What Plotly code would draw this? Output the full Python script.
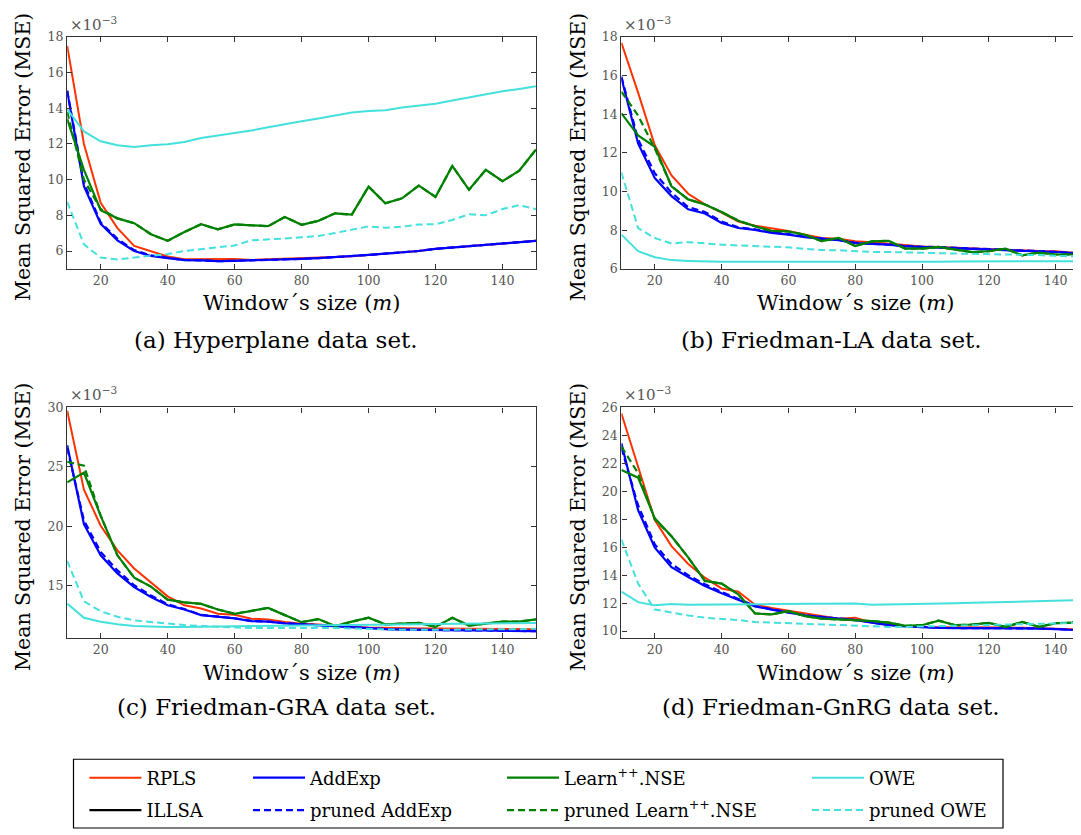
import plotly.graph_objects as go

# ---------------- data ----------------
WINDOW = [10, 15, 20, 25, 30, 35, 40, 45, 50, 55, 60, 65, 70, 75, 80,
          85, 90, 95, 100, 105, 110, 115, 120, 125, 130, 135, 140, 145, 150]

# (a) Hyperplane  (values x 1e-3)
HYP_RPLS = [17.5, 12.0, 8.7, 7.28, 6.29, 6.0, 5.69, 5.54, 5.54, 5.53, 5.55, 5.5, 5.53, 5.54, 5.56,
            5.62, 5.66, 5.71, 5.78, 5.86, 5.95, 6.0, 6.12, 6.2, 6.27, 6.33, 6.42, 6.5, 6.57]
HYP_ADDEXP = [14.95, 9.63, 7.52, 6.6, 6.0, 5.72, 5.6, 5.49, 5.47, 5.43, 5.45, 5.47, 5.5, 5.53, 5.56,
              5.6, 5.65, 5.7, 5.78, 5.85, 5.92, 6.0, 6.12, 6.19, 6.25, 6.33, 6.42, 6.5, 6.57]
HYP_PADDEXP = [15.0, 9.8, 7.6, 6.68, 6.05, 5.75, 5.62, 5.5, 5.47, 5.43, 5.45, 5.47, 5.5, 5.53, 5.56,
               5.6, 5.65, 5.7, 5.78, 5.85, 5.92, 6.0, 6.12, 6.19, 6.25, 6.33, 6.42, 6.5, 6.57]
HYP_LEARN = [13.4, 10.55, 8.29, 7.83, 7.56, 6.94, 6.57, 7.06, 7.5, 7.21, 7.49, 7.43, 7.39, 7.91, 7.47,
             7.69, 8.11, 8.04, 9.61, 8.68, 8.95, 9.67, 9.03, 10.77, 9.43, 10.55, 9.91, 10.5, 11.69]
HYP_PLEARN = [13.8, 10.0, 8.35, 7.83, 7.56, 6.94, 6.57, 7.06, 7.5, 7.21, 7.49, 7.43, 7.39, 7.91, 7.47,
              7.69, 8.11, 8.04, 9.61, 8.68, 8.95, 9.67, 9.03, 10.77, 9.43, 10.55, 9.91, 10.5, 11.69]
HYP_OWE = [13.94, 12.7, 12.15, 11.93, 11.83, 11.93, 11.98, 12.11, 12.33, 12.46, 12.59, 12.75, 12.94, 13.12, 13.27,
           13.43, 13.58, 13.76, 13.85, 13.89, 14.04, 14.13, 14.26, 14.44, 14.62, 14.77, 14.95, 15.08, 15.23]
HYP_POWE = [8.75, 6.37, 5.63, 5.52, 5.63, 5.71, 5.83, 6.0, 6.09, 6.2, 6.31, 6.6, 6.64, 6.7, 6.77,
            6.84, 7.01, 7.19, 7.38, 7.3, 7.36, 7.49, 7.5, 7.74, 8.06, 8.0, 8.35, 8.57, 8.35]

# (b) Friedman-LA
LA_RPLS = [17.7, 15.12, 12.4, 10.84, 9.89, 9.34, 8.92, 8.46, 8.24, 8.12, 7.97, 7.77, 7.61, 7.56, 7.43,
           7.39, 7.31, 7.22, 7.17, 7.14, 7.1, 7.09, 7.05, 7.0, 6.97, 6.93, 6.92, 6.85, 6.78]
LA_ADDEXP = [15.88, 12.49, 10.7, 9.77, 9.09, 8.87, 8.38, 8.12, 8.02, 7.87, 7.78, 7.65, 7.56, 7.49, 7.34,
             7.29, 7.26, 7.17, 7.14, 7.12, 7.09, 7.04, 7.0, 6.98, 6.95, 6.92, 6.88, 6.83, 6.76]
LA_PADDEXP = [15.95, 12.7, 10.95, 9.95, 9.2, 8.95, 8.45, 8.16, 8.05, 7.9, 7.8, 7.67, 7.58, 7.5, 7.36,
              7.3, 7.27, 7.18, 7.15, 7.13, 7.1, 7.05, 7.01, 6.99, 6.96, 6.93, 6.89, 6.84, 6.77]
LA_LEARN = [14.05, 12.91, 12.32, 10.28, 9.6, 9.34, 8.95, 8.5, 8.21, 7.97, 7.94, 7.77, 7.44, 7.61, 7.19,
            7.43, 7.46, 7.05, 7.05, 7.14, 7.0, 6.87, 6.92, 7.05, 6.71, 6.85, 6.75, 6.76, 6.75]
LA_PLEARN = [15.17, 13.93, 12.23, 10.28, 9.6, 9.34, 8.95, 8.5, 8.21, 7.97, 7.94, 7.77, 7.44, 7.61, 7.19,
             7.43, 7.46, 7.05, 7.05, 7.14, 7.0, 6.87, 6.92, 7.05, 6.71, 6.85, 6.75, 6.76, 6.75]
LA_OWE = [7.78, 6.92, 6.61, 6.46, 6.42, 6.39, 6.37, 6.37, 6.37, 6.37, 6.36, 6.35, 6.36, 6.37, 6.37,
          6.38, 6.38, 6.38, 6.38, 6.38, 6.39, 6.39, 6.39, 6.4, 6.4, 6.4, 6.41, 6.41, 6.41]
LA_POWE = [10.99, 8.12, 7.6, 7.32, 7.39, 7.32, 7.26, 7.22, 7.19, 7.15, 7.12, 7.04, 6.98, 6.97, 6.92,
           6.88, 6.88, 6.85, 6.83, 6.82, 6.8, 6.79, 6.78, 6.77, 6.75, 6.72, 6.68, 6.66, 6.65]

# (c) Friedman-GRA
GRA_RPLS = [29.72, 23.09, 20.06, 17.98, 16.46, 15.28, 14.12, 13.37, 13.09, 12.65, 12.57, 12.24, 12.18, 11.96, 11.82,
            11.75, 11.62, 11.55, 11.49, 11.45, 11.43, 11.41, 11.41, 11.39, 11.38, 11.37, 11.35, 11.35, 11.35]
GRA_ADDEXP = [26.82, 20.19, 17.57, 16.05, 14.89, 14.06, 13.37, 13.01, 12.54, 12.38, 12.27, 12.04, 11.99, 11.85, 11.77,
              11.69, 11.6, 11.5, 11.41, 11.37, 11.33, 11.3, 11.27, 11.26, 11.26, 11.25, 11.24, 11.22, 11.19]
GRA_PADDEXP = [26.6, 20.5, 17.85, 16.3, 15.05, 14.2, 13.45, 13.05, 12.56, 12.4, 12.28, 12.05, 12.0, 11.86, 11.78,
               11.7, 11.61, 11.51, 11.42, 11.37, 11.33, 11.3, 11.27, 11.26, 11.26, 11.25, 11.24, 11.22, 11.19]
GRA_LEARN = [23.7, 24.53, 20.88, 17.57, 15.69, 14.94, 13.84, 13.62, 13.48, 13.01, 12.65, 12.93, 13.15, 12.54, 11.95,
             12.21, 11.63, 11.99, 12.32, 11.77, 11.82, 11.88, 11.55, 12.32, 11.66, 11.85, 11.99, 11.99, 12.18]
GRA_PLEARN = [25.44, 25.1, 20.9, 17.57, 15.69, 14.94, 13.84, 13.62, 13.48, 13.01, 12.65, 12.93, 13.15, 12.54, 11.95,
              12.21, 11.63, 11.99, 12.32, 11.77, 11.82, 11.88, 11.55, 12.32, 11.66, 11.85, 11.99, 11.99, 12.18]
GRA_OWE = [13.51, 12.32, 11.99, 11.77, 11.63, 11.57, 11.55, 11.55, 11.55, 11.57, 11.6, 11.62, 11.63, 11.64, 11.65,
           11.67, 11.69, 11.7, 11.72, 11.73, 11.75, 11.77, 11.8, 11.82, 11.83, 11.85, 11.86, 11.87, 11.88]
GRA_POWE = [17.1, 13.7, 12.87, 12.4, 12.1, 11.95, 11.8, 11.7, 11.63, 11.55, 11.49, 11.45, 11.45, 11.47, 11.49,
            11.47, 11.45, 11.4, 11.35, 11.33, 11.31, 11.3, 11.3, 11.3, 11.3, 11.31, 11.32, 11.36, 11.4]

# (d) Friedman-GnRG
GNRG_RPLS = [25.57, 21.8, 17.95, 16.08, 14.8, 13.82, 13.05, 12.82, 11.89, 11.65, 11.47, 11.26, 11.07, 10.89, 10.96,
             10.6, 10.54, 10.37, 10.3, 10.3, 10.3, 10.28, 10.26, 10.25, 10.24, 10.22, 10.19, 10.15, 10.1]
GNRG_ADDEXP = [23.43, 18.65, 15.97, 14.57, 13.87, 13.22, 12.7, 12.24, 11.77, 11.54, 11.31, 11.12, 11.0, 10.89, 10.79,
               10.6, 10.42, 10.33, 10.26, 10.23, 10.21, 10.21, 10.21, 10.2, 10.2, 10.18, 10.14, 10.08, 10.02]
GNRG_PADDEXP = [23.1, 19.0, 16.2, 14.8, 14.0, 13.35, 12.8, 12.3, 11.8, 11.56, 11.33, 11.13, 11.01, 10.9, 10.8,
                10.61, 10.43, 10.34, 10.27, 10.24, 10.22, 10.22, 10.22, 10.21, 10.21, 10.19, 10.15, 10.09, 10.03]
GNRG_LEARN = [21.52, 20.98, 18.07, 16.78, 15.27, 13.59, 13.4, 12.63, 11.26, 11.19, 11.42, 11.07, 10.89, 10.84, 10.79,
              10.72, 10.61, 10.37, 10.42, 10.75, 10.42, 10.47, 10.58, 10.3, 10.65, 10.3, 10.56, 10.61, 10.79]
GNRG_PLEARN = [23.2, 21.3, 18.0, 16.78, 15.27, 13.59, 13.4, 12.63, 11.26, 11.19, 11.42, 11.07, 10.89, 10.84, 10.79,
               10.72, 10.61, 10.37, 10.42, 10.75, 10.42, 10.47, 10.58, 10.3, 10.65, 10.3, 10.56, 10.61, 10.79]
GNRG_OWE = [12.82, 12.07, 11.84, 11.93, 11.89, 11.91, 11.91, 11.91, 11.92, 11.93, 11.94, 11.95, 11.96, 11.97, 11.98,
            11.89, 11.9, 11.92, 11.93, 11.96, 11.99, 12.02, 12.05, 12.09, 12.12, 12.15, 12.19, 12.22, 12.24]
GNRG_POWE = [16.55, 13.4, 11.54, 11.31, 11.12, 10.96, 10.89, 10.79, 10.65, 10.6, 10.56, 10.51, 10.47, 10.42, 10.37,
             10.33, 10.3, 10.3, 10.33, 10.35, 10.38, 10.41, 10.44, 10.48, 10.51, 10.53, 10.54, 10.57, 10.6]

PANEL_CAPTIONS = ["(a) Hyperplane data set.", "(b) Friedman-LA data set.",
                  "(c) Friedman-GRA data set.", "(d) Friedman-GnRG data set."]
X_TICKS = [20, 40, 60, 80, 100, 120, 140]
Y_TICKS = [[6, 8, 10, 12, 14, 16, 18], [6, 8, 10, 12, 14, 16, 18],
           [15, 20, 25, 30], [10, 12, 14, 16, 18, 20, 22, 24, 26]]

METHODS = ["RPLS", "ILLSA", "AddExp", "pruned AddExp", "Learn<sup>++</sup>.NSE",
           "pruned Learn<sup>++</sup>.NSE", "OWE", "pruned OWE"]

PANELS = [
    [HYP_RPLS, None, HYP_ADDEXP, HYP_PADDEXP, HYP_LEARN, HYP_PLEARN, HYP_OWE, HYP_POWE],
    [LA_RPLS, None, LA_ADDEXP, LA_PADDEXP, LA_LEARN, LA_PLEARN, LA_OWE, LA_POWE],
    [GRA_RPLS, None, GRA_ADDEXP, GRA_PADDEXP, GRA_LEARN, GRA_PLEARN, GRA_OWE, GRA_POWE],
    [GNRG_RPLS, None, GNRG_ADDEXP, GNRG_PADDEXP, GNRG_LEARN, GNRG_PLEARN, GNRG_OWE, GNRG_POWE],
]

# ---------------- styling ----------------
PAGE_OFF = 8            # default body margin of the html page
W, H = 1081 - PAGE_OFF, 835 - PAGE_OFF
RED, BLACK, BLUE, GREEN, CYAN = "#ff3300", "#000000", "#0000ff", "#008000", "#44e0dc"
STYLES = [(RED, "solid", 2), (BLACK, "solid", 2.2), (BLUE, "solid", 2.2), (BLUE, "7px,4px", 2.2),
          (GREEN, "solid", 2.2), (GREEN, "7px,4px", 2.2), (CYAN, "solid", 2), (CYAN, "7px,4px", 2)]
SERIF = "DejaVu Serif"


def px_x(v):
    return (v - PAGE_OFF) / W


def px_y(v):
    return 1 - (v - PAGE_OFF) / H


# axis geometry (window pixels)
COLS = [(67.2, 536.0), (621.4, 1081.0)]
ROWS = [(29.3, 265.7), (406.7, 641.7)]
X_RANGES = [[10, 150], [10, 147.6], [10, 150], [10, 147.6]]
Y_RANGES = [[4.99, 18], [6, 18], [10.6, 30], [9.49, 26]]

fig = go.Figure()

for p in range(4):
    suffix = "" if p == 0 else str(p + 1)
    for m in range(8):
        vals = PANELS[p][m]
        col, dash, lw = STYLES[m]
        legend_id = "legend" if m == 0 else "legend%d" % (m + 1)
        if vals is None:
            xs, ys = [None], [None]
        else:
            xs, ys = WINDOW, vals
        fig.add_trace(go.Scatter(
            x=xs, y=ys, mode="lines", name=METHODS[m],
            line=dict(color=col, dash=dash, width=lw),
            xaxis="x" + suffix, yaxis="y" + suffix,
            showlegend=(p == 0), legend=legend_id, legendgroup=METHODS[m],
        ))

axis_common = dict(showline=True, linecolor="#333333", linewidth=1.4, ticks="inside",
                   ticklen=5, tickwidth=1, tickcolor="#333333", showgrid=False, zeroline=False,
                   tickfont=dict(family=SERIF, size=12.5, color="#555555"))

layout = dict(width=W, height=H, margin=dict(l=0, r=0, t=0, b=0),
              paper_bgcolor="white", plot_bgcolor="white", showlegend=True)

annotations = []
for p in range(4):
    suffix = "" if p == 0 else str(p + 1)
    c, r = p % 2, p // 2
    x0, x1 = COLS[c]
    y0, y1 = ROWS[r]
    layout["xaxis" + suffix] = dict(axis_common, domain=[px_x(x0), min(1.0, px_x(x1))], range=X_RANGES[p],
                                    anchor="y" + suffix, tickvals=X_TICKS, mirror="ticks")
    layout["yaxis" + suffix] = dict(axis_common, domain=[px_y(y1), px_y(y0)], range=Y_RANGES[p],
                                    anchor="x" + suffix, tickvals=Y_TICKS[p],
                                    mirror=("ticks" if c == 0 else False))
    full_x1 = 536.0 if c == 0 else 1089.0
    xc = (x0 + full_x1) / 2
    # x title
    annotations.append(dict(text="Window\u00b4s size (<i>m</i>)", x=px_x(xc), y=px_y(y1 + 35),
                            xref="paper", yref="paper", showarrow=False, xanchor="center", yanchor="middle",
                            font=dict(family=SERIF, size=21, color="black")))
    # y title
    annotations.append(dict(text="Mean Squared Error (MSE)", x=px_x(x0 - 44), y=px_y((y0 + y1) / 2 + 4),
                            xref="paper", yref="paper", showarrow=False, xanchor="center", yanchor="middle",
                            textangle=-90, font=dict(family=SERIF, size=20.5, color="black")))
    # exponent
    annotations.append(dict(text="\u00d710<sup>\u22123</sup>", x=px_x(x0 + 1), y=px_y(y0 - 1),
                            xref="paper", yref="paper", showarrow=False, xanchor="left", yanchor="bottom",
                            font=dict(family=SERIF, size=15, color="#555555")))
    # caption
    cap_x = 276 if c == 0 else 831
    cap_y = 338 if r == 0 else 712
    annotations.append(dict(text=PANEL_CAPTIONS[p], x=px_x(cap_x), y=px_y(cap_y),
                            xref="paper", yref="paper", showarrow=False, xanchor="center", yanchor="middle",
                            font=dict(family=SERIF, size=23, color="black")))

layout["annotations"] = annotations

# legends: 4 columns x 2 rows
LEG_COL_X = [84.4, 248, 502, 807]
LEG_ROW_Y = [784, 817]
for m in range(8):
    key = "legend" if m == 0 else "legend%d" % (m + 1)
    col, row = m // 2, m % 2
    layout[key] = dict(x=px_x(LEG_COL_X[col]), y=px_y(LEG_ROW_Y[row]), xanchor="left", yanchor="middle",
                       xref="paper", yref="paper", bgcolor="rgba(0,0,0,0)", borderwidth=0,
                       itemwidth=52, font=dict(family=SERIF, size=18, color="black"))

layout["shapes"] = [dict(type="rect", xref="paper", yref="paper",
                         x0=px_x(73.5), x1=px_x(1003), y0=0, y1=px_y(765),
                         line=dict(color="black", width=1.2), fillcolor="rgba(0,0,0,0)")]

fig.update_layout(**layout)
fig.write_html("out.html")
